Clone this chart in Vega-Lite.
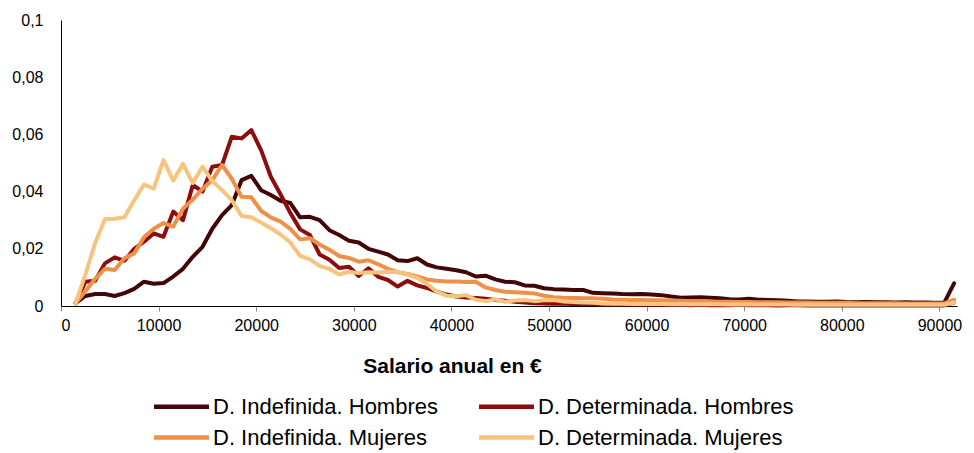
{
  "$schema": "https://vega.github.io/schema/vega-lite/v6.json",
  "width": 896,
  "height": 286,
  "autosize": {"type": "none"},
  "padding": {"left": 61, "top": 20, "right": 17, "bottom": 147},
  "config": {
    "view": {"stroke": null},
    "font": "Liberation Sans",
    "axis": {"labelFont": "Liberation Sans", "titleFont": "Liberation Sans", "labelColor": "#000", "titleColor": "#000"},
    "legend": {"labelFont": "Liberation Sans", "labelColor": "#000"}
  },
  "data": {"values": [
{"x":1500,"s":"A","y":0.001},{"x":2500,"s":"A","y":0.0035},{"x":3500,"s":"A","y":0.0042},{"x":4500,"s":"A","y":0.0042},{"x":5500,"s":"A","y":0.0035},{"x":6500,"s":"A","y":0.0045},{"x":7500,"s":"A","y":0.006},{"x":8500,"s":"A","y":0.0085},{"x":9500,"s":"A","y":0.0078},{"x":10500,"s":"A","y":0.008},
{"x":11500,"s":"A","y":0.0103},{"x":12500,"s":"A","y":0.013},{"x":13500,"s":"A","y":0.0172},{"x":14500,"s":"A","y":0.0207},{"x":15500,"s":"A","y":0.027},{"x":16500,"s":"A","y":0.0318},{"x":17500,"s":"A","y":0.0353},{"x":18500,"s":"A","y":0.044},{"x":19500,"s":"A","y":0.0455},{"x":20500,"s":"A","y":0.0405},
{"x":21500,"s":"A","y":0.0388},{"x":22500,"s":"A","y":0.0368},{"x":23500,"s":"A","y":0.036},{"x":24500,"s":"A","y":0.031},{"x":25500,"s":"A","y":0.0312},{"x":26500,"s":"A","y":0.03},{"x":27500,"s":"A","y":0.0265},{"x":28500,"s":"A","y":0.0248},{"x":29500,"s":"A","y":0.0228},{"x":30500,"s":"A","y":0.0222},
{"x":31500,"s":"A","y":0.02},{"x":32500,"s":"A","y":0.019},{"x":33500,"s":"A","y":0.018},{"x":34500,"s":"A","y":0.016},{"x":35500,"s":"A","y":0.0157},{"x":36500,"s":"A","y":0.0167},{"x":37500,"s":"A","y":0.0145},{"x":38500,"s":"A","y":0.0135},{"x":39500,"s":"A","y":0.013},{"x":40500,"s":"A","y":0.0125},
{"x":41500,"s":"A","y":0.0118},{"x":42500,"s":"A","y":0.0103},{"x":43500,"s":"A","y":0.0106},{"x":44500,"s":"A","y":0.0093},{"x":45500,"s":"A","y":0.0085},{"x":46500,"s":"A","y":0.0083},{"x":47500,"s":"A","y":0.0072},{"x":48500,"s":"A","y":0.0071},{"x":49500,"s":"A","y":0.0062},{"x":50500,"s":"A","y":0.0059},
{"x":51500,"s":"A","y":0.0058},{"x":52500,"s":"A","y":0.0056},{"x":53500,"s":"A","y":0.0056},{"x":54500,"s":"A","y":0.0046},{"x":55500,"s":"A","y":0.0045},{"x":56500,"s":"A","y":0.0044},{"x":57500,"s":"A","y":0.0042},{"x":58500,"s":"A","y":0.0041},{"x":59500,"s":"A","y":0.0042},{"x":60500,"s":"A","y":0.004},
{"x":61500,"s":"A","y":0.0038},{"x":62500,"s":"A","y":0.0033},{"x":63500,"s":"A","y":0.0029},{"x":64500,"s":"A","y":0.003},{"x":65500,"s":"A","y":0.0031},{"x":66500,"s":"A","y":0.0029},{"x":67500,"s":"A","y":0.0027},{"x":68500,"s":"A","y":0.0024},{"x":69500,"s":"A","y":0.0023},{"x":70500,"s":"A","y":0.0025},
{"x":71500,"s":"A","y":0.0022},{"x":72500,"s":"A","y":0.0021},{"x":73500,"s":"A","y":0.002},{"x":74500,"s":"A","y":0.0018},{"x":75500,"s":"A","y":0.0016},{"x":76500,"s":"A","y":0.0016},{"x":77500,"s":"A","y":0.0015},{"x":78500,"s":"A","y":0.0015},{"x":79500,"s":"A","y":0.0016},{"x":80500,"s":"A","y":0.0014},
{"x":81500,"s":"A","y":0.0013},{"x":82500,"s":"A","y":0.0014},{"x":83500,"s":"A","y":0.0013},{"x":84500,"s":"A","y":0.0013},{"x":85500,"s":"A","y":0.0012},{"x":86500,"s":"A","y":0.0013},{"x":87500,"s":"A","y":0.0012},{"x":88500,"s":"A","y":0.0012},{"x":89500,"s":"A","y":0.0011},{"x":90500,"s":"A","y":0.0012},
{"x":91500,"s":"A","y":0.0079},

{"x":1500,"s":"B","y":0.001},{"x":2500,"s":"B","y":0.0085},{"x":3500,"s":"B","y":0.0088},{"x":4500,"s":"B","y":0.0149},{"x":5500,"s":"B","y":0.017},{"x":6500,"s":"B","y":0.0158},{"x":7500,"s":"B","y":0.02},{"x":8500,"s":"B","y":0.0225},{"x":9500,"s":"B","y":0.0254},{"x":10500,"s":"B","y":0.0242},
{"x":11500,"s":"B","y":0.033},{"x":12500,"s":"B","y":0.03},{"x":13500,"s":"B","y":0.0423},{"x":14500,"s":"B","y":0.04},{"x":15500,"s":"B","y":0.0487},{"x":16500,"s":"B","y":0.0493},{"x":17500,"s":"B","y":0.0592},{"x":18500,"s":"B","y":0.0586},{"x":19500,"s":"B","y":0.0615},{"x":20500,"s":"B","y":0.0545},
{"x":21500,"s":"B","y":0.0452},{"x":22500,"s":"B","y":0.039},{"x":23500,"s":"B","y":0.0325},{"x":24500,"s":"B","y":0.0268},{"x":25500,"s":"B","y":0.0248},{"x":26500,"s":"B","y":0.018},{"x":27500,"s":"B","y":0.0162},{"x":28500,"s":"B","y":0.0133},{"x":29500,"s":"B","y":0.0137},{"x":30500,"s":"B","y":0.0105},
{"x":31500,"s":"B","y":0.0132},{"x":32500,"s":"B","y":0.0102},{"x":33500,"s":"B","y":0.0091},{"x":34500,"s":"B","y":0.0068},{"x":35500,"s":"B","y":0.0088},{"x":36500,"s":"B","y":0.0072},{"x":37500,"s":"B","y":0.0063},{"x":38500,"s":"B","y":0.005},{"x":39500,"s":"B","y":0.004},{"x":40500,"s":"B","y":0.0033},
{"x":41500,"s":"B","y":0.003},{"x":42500,"s":"B","y":0.0028},{"x":43500,"s":"B","y":0.0025},{"x":44500,"s":"B","y":0.0021},{"x":45500,"s":"B","y":0.0018},{"x":46500,"s":"B","y":0.0015},{"x":47500,"s":"B","y":0.0012},{"x":48500,"s":"B","y":0.001},{"x":49500,"s":"B","y":0.0009},{"x":50500,"s":"B","y":0.0008},
{"x":51500,"s":"B","y":0.0008},{"x":52500,"s":"B","y":0.0007},{"x":53500,"s":"B","y":0.0006},{"x":54500,"s":"B","y":0.0006},{"x":55500,"s":"B","y":0.0005},{"x":56500,"s":"B","y":0.0005},{"x":57500,"s":"B","y":0.0006},{"x":58500,"s":"B","y":0.0005},{"x":59500,"s":"B","y":0.0004},{"x":60500,"s":"B","y":0.0005},
{"x":61500,"s":"B","y":0.0004},{"x":62500,"s":"B","y":0.0004},{"x":63500,"s":"B","y":0.0004},{"x":64500,"s":"B","y":0.0003},{"x":65500,"s":"B","y":0.0004},{"x":66500,"s":"B","y":0.0003},{"x":67500,"s":"B","y":0.0003},{"x":68500,"s":"B","y":0.0003},{"x":69500,"s":"B","y":0.0004},{"x":70500,"s":"B","y":0.0003},
{"x":71500,"s":"B","y":0.0003},{"x":72500,"s":"B","y":0.0003},{"x":73500,"s":"B","y":0.0002},{"x":74500,"s":"B","y":0.0003},{"x":75500,"s":"B","y":0.0003},{"x":76500,"s":"B","y":0.0002},{"x":77500,"s":"B","y":0.0002},{"x":78500,"s":"B","y":0.0003},{"x":79500,"s":"B","y":0.0002},{"x":80500,"s":"B","y":0.0002},
{"x":81500,"s":"B","y":0.0002},{"x":82500,"s":"B","y":0.0003},{"x":83500,"s":"B","y":0.0002},{"x":84500,"s":"B","y":0.0002},{"x":85500,"s":"B","y":0.0002},{"x":86500,"s":"B","y":0.0002},{"x":87500,"s":"B","y":0.0002},{"x":88500,"s":"B","y":0.0002},{"x":89500,"s":"B","y":0.0002},{"x":90500,"s":"B","y":0.0002},
{"x":91500,"s":"B","y":0.0012},

{"x":1500,"s":"C","y":0.001},{"x":2500,"s":"C","y":0.0052},{"x":3500,"s":"C","y":0.0095},{"x":4500,"s":"C","y":0.013},{"x":5500,"s":"C","y":0.0126},{"x":6500,"s":"C","y":0.0167},{"x":7500,"s":"C","y":0.0184},{"x":8500,"s":"C","y":0.024},{"x":9500,"s":"C","y":0.027},{"x":10500,"s":"C","y":0.029},
{"x":11500,"s":"C","y":0.0278},{"x":12500,"s":"C","y":0.034},{"x":13500,"s":"C","y":0.0372},{"x":14500,"s":"C","y":0.041},{"x":15500,"s":"C","y":0.044},{"x":16500,"s":"C","y":0.0493},{"x":17500,"s":"C","y":0.0445},{"x":18500,"s":"C","y":0.0382},{"x":19500,"s":"C","y":0.038},{"x":20500,"s":"C","y":0.0333},
{"x":21500,"s":"C","y":0.031},{"x":22500,"s":"C","y":0.0295},{"x":23500,"s":"C","y":0.027},{"x":24500,"s":"C","y":0.0233},{"x":25500,"s":"C","y":0.0237},{"x":26500,"s":"C","y":0.0215},{"x":27500,"s":"C","y":0.0197},{"x":28500,"s":"C","y":0.0175},{"x":29500,"s":"C","y":0.0168},{"x":30500,"s":"C","y":0.0155},
{"x":31500,"s":"C","y":0.016},{"x":32500,"s":"C","y":0.0146},{"x":33500,"s":"C","y":0.013},{"x":34500,"s":"C","y":0.0118},{"x":35500,"s":"C","y":0.0112},{"x":36500,"s":"C","y":0.0103},{"x":37500,"s":"C","y":0.0093},{"x":38500,"s":"C","y":0.0088},{"x":39500,"s":"C","y":0.0086},{"x":40500,"s":"C","y":0.0086},
{"x":41500,"s":"C","y":0.0084},{"x":42500,"s":"C","y":0.0085},{"x":43500,"s":"C","y":0.0065},{"x":44500,"s":"C","y":0.0056},{"x":45500,"s":"C","y":0.005},{"x":46500,"s":"C","y":0.0048},{"x":47500,"s":"C","y":0.0046},{"x":48500,"s":"C","y":0.0044},{"x":49500,"s":"C","y":0.0036},{"x":50500,"s":"C","y":0.0031},
{"x":51500,"s":"C","y":0.0029},{"x":52500,"s":"C","y":0.0028},{"x":53500,"s":"C","y":0.0027},{"x":54500,"s":"C","y":0.0027},{"x":55500,"s":"C","y":0.0025},{"x":56500,"s":"C","y":0.0023},{"x":57500,"s":"C","y":0.0022},{"x":58500,"s":"C","y":0.0021},{"x":59500,"s":"C","y":0.0021},{"x":60500,"s":"C","y":0.002},
{"x":61500,"s":"C","y":0.002},{"x":62500,"s":"C","y":0.0019},{"x":63500,"s":"C","y":0.0018},{"x":64500,"s":"C","y":0.0017},{"x":65500,"s":"C","y":0.0017},{"x":66500,"s":"C","y":0.0016},{"x":67500,"s":"C","y":0.0015},{"x":68500,"s":"C","y":0.0015},{"x":69500,"s":"C","y":0.0014},{"x":70500,"s":"C","y":0.0014},
{"x":71500,"s":"C","y":0.0013},{"x":72500,"s":"C","y":0.0013},{"x":73500,"s":"C","y":0.0013},{"x":74500,"s":"C","y":0.0012},{"x":75500,"s":"C","y":0.0012},{"x":76500,"s":"C","y":0.0012},{"x":77500,"s":"C","y":0.0011},{"x":78500,"s":"C","y":0.0011},{"x":79500,"s":"C","y":0.0011},{"x":80500,"s":"C","y":0.0011},
{"x":81500,"s":"C","y":0.001},{"x":82500,"s":"C","y":0.001},{"x":83500,"s":"C","y":0.001},{"x":84500,"s":"C","y":0.001},{"x":85500,"s":"C","y":0.001},{"x":86500,"s":"C","y":0.0009},{"x":87500,"s":"C","y":0.0009},{"x":88500,"s":"C","y":0.0009},{"x":89500,"s":"C","y":0.0009},{"x":90500,"s":"C","y":0.0009},
{"x":91500,"s":"C","y":0.0022},

{"x":1500,"s":"D","y":0.001},{"x":2500,"s":"D","y":0.011},{"x":3500,"s":"D","y":0.022},{"x":4500,"s":"D","y":0.0303},{"x":5500,"s":"D","y":0.0305},{"x":6500,"s":"D","y":0.031},{"x":7500,"s":"D","y":0.037},{"x":8500,"s":"D","y":0.0425},{"x":9500,"s":"D","y":0.041},{"x":10500,"s":"D","y":0.051},
{"x":11500,"s":"D","y":0.0438},{"x":12500,"s":"D","y":0.0497},{"x":13500,"s":"D","y":0.043},{"x":14500,"s":"D","y":0.0487},{"x":15500,"s":"D","y":0.0437},{"x":16500,"s":"D","y":0.0405},{"x":17500,"s":"D","y":0.037},{"x":18500,"s":"D","y":0.0315},{"x":19500,"s":"D","y":0.031},{"x":20500,"s":"D","y":0.0292},
{"x":21500,"s":"D","y":0.0272},{"x":22500,"s":"D","y":0.025},{"x":23500,"s":"D","y":0.0222},{"x":24500,"s":"D","y":0.0175},{"x":25500,"s":"D","y":0.0163},{"x":26500,"s":"D","y":0.014},{"x":27500,"s":"D","y":0.013},{"x":28500,"s":"D","y":0.011},{"x":29500,"s":"D","y":0.012},{"x":30500,"s":"D","y":0.0115},
{"x":31500,"s":"D","y":0.0118},{"x":32500,"s":"D","y":0.0117},{"x":33500,"s":"D","y":0.012},{"x":34500,"s":"D","y":0.0118},{"x":35500,"s":"D","y":0.011},{"x":36500,"s":"D","y":0.0098},{"x":37500,"s":"D","y":0.0078},{"x":38500,"s":"D","y":0.005},{"x":39500,"s":"D","y":0.0036},{"x":40500,"s":"D","y":0.0034},
{"x":41500,"s":"D","y":0.0038},{"x":42500,"s":"D","y":0.0022},{"x":43500,"s":"D","y":0.0017},{"x":44500,"s":"D","y":0.0023},{"x":45500,"s":"D","y":0.0015},{"x":46500,"s":"D","y":0.0019},{"x":47500,"s":"D","y":0.0021},{"x":48500,"s":"D","y":0.0017},{"x":49500,"s":"D","y":0.002},{"x":50500,"s":"D","y":0.0021},
{"x":51500,"s":"D","y":0.0016},{"x":52500,"s":"D","y":0.0014},{"x":53500,"s":"D","y":0.0012},{"x":54500,"s":"D","y":0.0011},{"x":55500,"s":"D","y":0.0009},{"x":56500,"s":"D","y":0.0008},{"x":57500,"s":"D","y":0.0008},{"x":58500,"s":"D","y":0.0007},{"x":59500,"s":"D","y":0.0008},{"x":60500,"s":"D","y":0.0007},
{"x":61500,"s":"D","y":0.0007},{"x":62500,"s":"D","y":0.0006},{"x":63500,"s":"D","y":0.0007},{"x":64500,"s":"D","y":0.0006},{"x":65500,"s":"D","y":0.0006},{"x":66500,"s":"D","y":0.0006},{"x":67500,"s":"D","y":0.0006},{"x":68500,"s":"D","y":0.0005},{"x":69500,"s":"D","y":0.0006},{"x":70500,"s":"D","y":0.0005},
{"x":71500,"s":"D","y":0.0005},{"x":72500,"s":"D","y":0.0005},{"x":73500,"s":"D","y":0.0005},{"x":74500,"s":"D","y":0.0005},{"x":75500,"s":"D","y":0.0004},{"x":76500,"s":"D","y":0.0005},{"x":77500,"s":"D","y":0.0004},{"x":78500,"s":"D","y":0.0004},{"x":79500,"s":"D","y":0.0004},{"x":80500,"s":"D","y":0.0004},
{"x":81500,"s":"D","y":0.0004},{"x":82500,"s":"D","y":0.0004},{"x":83500,"s":"D","y":0.0004},{"x":84500,"s":"D","y":0.0004},{"x":85500,"s":"D","y":0.0004},{"x":86500,"s":"D","y":0.0004},{"x":87500,"s":"D","y":0.0004},{"x":88500,"s":"D","y":0.0004},{"x":89500,"s":"D","y":0.0004},{"x":90500,"s":"D","y":0.0004},
{"x":91500,"s":"D","y":0.0012}
  ]},
  "mark": {"type": "line", "strokeWidth": 4, "strokeJoin": "round", "strokeCap": "round"},
  "encoding": {
    "x": {
      "field": "x", "type": "quantitative",
      "scale": {"domain": [0, 91800], "nice": false, "zero": false},
      "axis": {
        "values": [0, 10000, 20000, 30000, 40000, 50000, 60000, 70000, 80000, 90000],
        "format": "d", "grid": false, "domainColor": "#000", "domainWidth": 1,
        "tickColor": "#888", "tickSize": 5, "labelFontSize": 16, "labelPadding": 6,
        "title": "Salario anual en €", "titleFontSize": 21, "titleFontWeight": "bold",
        "titleX": 391, "titleY": 60, "titleAlign": "center", "titleBaseline": "middle"
      }
    },
    "y": {
      "field": "y", "type": "quantitative",
      "scale": {"domain": [0, 0.1], "nice": false},
      "axis": {
        "values": [0, 0.02, 0.04, 0.06, 0.08, 0.1],
        "labelExpr": "replace(toString(datum.value), '.', ',')",
        "grid": false, "ticks": false, "domainColor": "#000", "domainWidth": 1,
        "labelFontSize": 16, "labelPadding": 18, "title": null
      }
    },
    "color": {
      "field": "s", "type": "nominal",
      "scale": {"domain": ["A", "B", "C", "D"], "range": ["#420606", "#8c0d0d", "#ef9049", "#f6c47e"]},
      "legend": {
        "title": null, "orient": "none", "direction": "horizontal", "legendX": 109, "legendY": 375,
        "columns": 2, "columnPadding": 32, "rowPadding": 8, "padding": 0,
        "symbolType": "M-3,0H3", "symbolStrokeWidth": 4.5, "symbolSize": 336,
        "labelFontSize": 22, "labelOffset": 20, "labelLimit": 400,
        "labelExpr": "{'A': 'D. Indefinida. Hombres', 'B': 'D. Determinada. Hombres', 'C': 'D. Indefinida. Mujeres', 'D': 'D. Determinada. Mujeres'}[datum.label]"
      }
    }
  }
}
